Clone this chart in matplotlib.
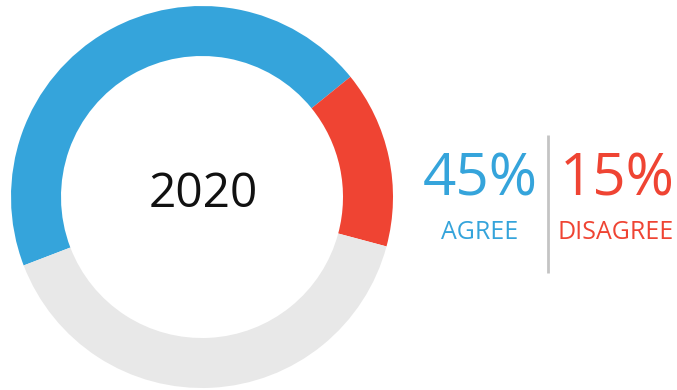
import matplotlib
matplotlib.use("Agg")
import matplotlib.pyplot as plt

labels = ["AGREE", "DISAGREE", "OTHER"]
values = [45, 15, 40]
colors = ["#35A4DB", "#EF4433", "#E8E8E8"]
center_label = "2020"

W, H = 677, 390
fig = plt.figure(figsize=(W / 100, H / 100), dpi=100)
ax = fig.add_axes([0, 0, 1, 1])
ax.pie(values, colors=colors, startangle=201, counterclock=False,
       center=(202, H - 197), radius=191,
       wedgeprops=dict(width=50, edgecolor="none", linewidth=0))
ax.set_xlim(0, W)
ax.set_ylim(0, H)
ax.set_aspect("equal")
ax.axis("off")

font = "Open Sans"
ax.text(203, H - 207, center_label, ha="center", va="baseline",
        fontsize=34.5, color="#111111", family=font)

ax.text(480, H - 196, f"{values[0]}%", ha="center", va="baseline",
        fontsize=42, color=colors[0], family=font)
ax.text(480, H - 239, labels[0], ha="center", va="baseline",
        fontsize=18, color=colors[0], family=font)
ax.text(617, H - 196, f"{values[1]}%", ha="center", va="baseline",
        fontsize=42, color=colors[1], family=font)
ax.text(616, H - 239, labels[1], ha="center", va="baseline",
        fontsize=18, color=colors[1], family=font)

ax.plot([548, 548], [H - 135, H - 273], color="#C4C4C4", linewidth=2,
        solid_capstyle="butt")

fig.savefig("out.png", dpi=100)
